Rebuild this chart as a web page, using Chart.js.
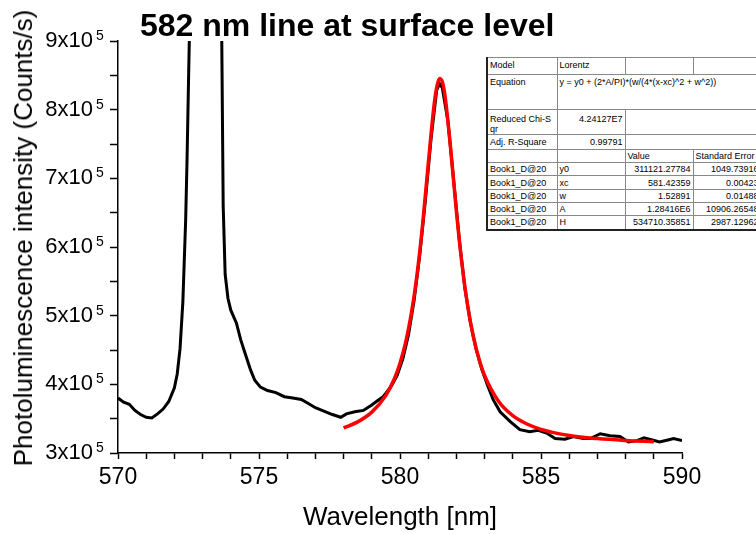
<!DOCTYPE html>
<html>
<head>
<meta charset="utf-8">
<script src="https://cdn.jsdelivr.net/npm/chart.js@4.4.0/dist/chart.umd.min.js"></script>
<style>
body{margin:0;background:#fff;overflow:hidden;}
#wrap{position:relative;width:756px;height:534px;overflow:hidden;font-family:"Liberation Sans",Arial,sans-serif;color:#000;}
#title{position:absolute;left:140px;top:7px;font-size:32px;font-weight:bold;white-space:nowrap;}
#ytitle{position:absolute;left:23px;top:238px;transform:translate(-50%,-50%) rotate(-90deg);white-space:nowrap;font-size:26px;line-height:1;}
#fit{position:absolute;left:486px;top:57px;border-collapse:collapse;table-layout:fixed;width:274px;font-size:9px;line-height:10px;background:#fff;border-left:2px solid #222;border-bottom:2px solid #222;border-top:1px solid #444;}
#fit td{border:1px solid #888;padding:0 2px;vertical-align:top;white-space:nowrap;overflow:hidden;}
#fit td.r{text-align:right;}
#fit tr.d td{vertical-align:middle;}
</style>
</head>
<body>
<div id="wrap">
<canvas id="chart" width="756" height="534"></canvas>
<div id="title">582 nm line at surface level</div>
<div id="ytitle">Photoluminescence intensity (Counts/s)</div>
<table id="fit">
<colgroup><col style="width:70px"><col style="width:68px"><col style="width:68px"><col style="width:68px"></colgroup>
<tr style="height:17px"><td style="padding-top:2px">Model</td><td style="padding-top:2px">Lorentz</td><td></td><td></td></tr>
<tr style="height:35px"><td style="padding-top:2px">Equation</td><td colspan="3" style="padding-top:2px">y = y0 + (2*A/PI)*(w/(4*(x-xc)^2 + w^2))</td></tr>
<tr style="height:25px"><td style="padding-top:4px">Reduced Chi-S<br>qr</td><td class="r" style="padding-top:4px">4.24127E7</td><td colspan="2"></td></tr>
<tr class="d" style="height:15px"><td>Adj. R-Square</td><td class="r">0.99791</td><td colspan="2"></td></tr>
<tr class="d" style="height:13px"><td></td><td></td><td>Value</td><td>Standard Error</td></tr>
<tr class="d" style="height:13px"><td>Book1_D@20</td><td>y0</td><td class="r">311121.27784</td><td class="r">1049.73916</td></tr>
<tr class="d" style="height:14px"><td>Book1_D@20</td><td>xc</td><td class="r">581.42359</td><td class="r">0.00423</td></tr>
<tr class="d" style="height:13px"><td>Book1_D@20</td><td>w</td><td class="r">1.52891</td><td class="r">0.01488</td></tr>
<tr class="d" style="height:13px"><td>Book1_D@20</td><td>A</td><td class="r">1.28416E6</td><td class="r">10906.26548</td></tr>
<tr class="d" style="height:14px"><td>Book1_D@20</td><td>H</td><td class="r">534710.35851</td><td class="r">2987.12962</td></tr>
</table>
</div>
<script>
// measured spectrum (black)
var wavelength = [570.0, 570.2, 570.4, 570.6, 570.8, 571.0, 571.2, 571.4, 571.6, 571.8,
	572.0, 572.1, 572.2, 572.3, 572.4, 572.45, 572.5, 572.6, 572.8, 573.0, 573.2, 573.4, 573.6,
	573.68, 573.73, 573.8, 573.9, 574.0, 574.2, 574.35, 574.5, 574.7, 574.85, 575.05, 575.3,
	575.6, 575.9, 576.2, 576.5, 576.75, 577.0, 577.3, 577.6, 577.9, 578.1, 578.4, 578.7,
	579.0, 579.2, 579.4, 579.5, 579.7, 579.9, 580.1, 580.3, 580.5, 580.7, 580.9, 581.1,
	581.3, 581.4, 581.5, 581.7, 581.9, 582.1, 582.3, 582.5, 582.7, 582.9, 583.1, 583.3,
	583.55, 583.9, 584.25, 584.6, 584.9, 585.2, 585.5, 585.85, 586.15, 586.5, 586.75,
	587.1, 587.45, 587.8, 588.1, 588.4, 588.65, 588.95, 589.2, 589.5, 589.7, 590.0];
var intensity = [380000, 374000, 371000, 362000, 356000, 352000, 351000, 357000, 364000, 375000,
	395000, 415000, 452000, 520000, 640000, 730000, 840000, 1050000, 1300000, 1450000, 1400000, 1200000, 1000000,
	900000, 660000, 560000, 525000, 508000, 489000, 465000, 446000, 421000, 406000, 396000, 391000,
	388000, 382000, 380000, 378000, 372000, 366000, 361000, 356000, 352000, 357000, 360000, 362000,
	370000, 376000, 382000, 387000, 398000, 413000, 437000, 472000, 522000, 588000, 668000, 757000,
	828000, 838000, 832000, 783000, 698000, 612000, 540000, 489000, 451000, 422000, 399000, 378000,
	360000, 346000, 334000, 331000, 333000, 329000, 321000, 320000, 324000, 321000, 321000,
	328000, 325000, 324000, 316000, 318000, 322000, 319000, 316000, 319000, 321000, 318000];

// Lorentz fit (red)
var fitWavelength = [578.0, 578.5, 579.0, 579.5, 579.8, 580.0, 580.2, 580.4, 580.6, 580.8,
	581.0, 581.2, 581.3, 581.4, 581.5, 581.6, 581.8, 582.0, 582.2, 582.4, 582.6, 582.8,
	583.0, 583.5, 584.0, 584.5, 585.0, 586.0, 587.0, 588.0, 589.0];
var fitIntensity = [336500, 345300, 359500, 384000, 408100, 430800, 461200, 502600, 558600, 632200,
	720200, 803700, 832200, 845300, 840500, 818800, 741500, 652000, 574300, 514300, 469900, 437200,
	412900, 375000, 354400, 342200, 334500, 325600, 321000, 318300, 316500];

var xTicks = [570, 575, 580, 585, 590];
var xTickLabels = ['570', '575', '580', '585', '590'];
var yTicks = [300000, 400000, 500000, 600000, 700000, 800000, 900000];
var yTickLabels = ['3x10', '4x10', '5x10', '6x10', '7x10', '8x10', '9x10'];
var yTickExponent = '5';

Chart.defaults.font.family = '"Liberation Sans", Arial, sans-serif';
Chart.defaults.color = '#000';

// small raised exponent after each y tick label
var exponentPlugin = {
	id: 'exponent',
	afterDraw: function(chart){
		var s = chart.scales.y;
		var c = chart.ctx;
		c.save();
		c.font = '14px "Liberation Sans", Arial, sans-serif';
		c.fillStyle = '#000';
		c.textAlign = 'left';
		c.textBaseline = 'alphabetic';
		yTicks.forEach(function(v){
			c.fillText(yTickExponent, s.right - 22, s.getPixelForValue(v) - 1);
		});
		c.restore();
	}
};

var spectrum = wavelength.map(function(x, i){ return {x: x, y: intensity[i]}; });
var fit = fitWavelength.map(function(x, i){ return {x: x, y: fitIntensity[i]}; });

var ctx = document.getElementById('chart');
var chart = new Chart(ctx, {
	type: 'scatter',
	data: {
		datasets: [
			{
				label: 'Lorentz fit',
				data: fit,
				showLine: true,
				borderColor: '#ff0000',
				borderWidth: 3.5,
				pointRadius: 0,
				cubicInterpolationMode: 'monotone',
				order: 0
			},
			{
				label: 'Book1_D@20',
				data: spectrum,
				showLine: true,
				borderColor: '#000000',
				borderWidth: 3,
				pointRadius: 0,
				tension: 0,
				order: 1
			}
		]
	},
	plugins: [exponentPlugin],
	options: {
		responsive: false,
		animation: false,
		events: [],
		layout: {padding: {left: 8, top: 41, right: 74, bottom: 0}},
		plugins: {legend: {display: false}, tooltip: {enabled: false}, title: {display: false}},
		scales: {
			x: {
				type: 'linear',
				min: 570,
				max: 590,
				afterFit: function(s){ s.height = 81; },
				ticks: {
					stepSize: 1,
					autoSkip: false,
					maxRotation: 0,
					padding: 5,
					font: {size: 23},
					callback: function(v){
						var k = xTicks.indexOf(v);
						return k >= 0 ? xTickLabels[k] : '';
					}
				},
				grid: {drawOnChartArea: false, tickLength: 6, tickColor: '#000', tickWidth: 1.5},
				border: {color: '#000', width: 1.5},
				title: {display: true, text: 'Wavelength [nm]', font: {size: 26}, padding: {top: 0, bottom: 1}}
			},
			y: {
				min: 300000,
				max: 900000,
				afterFit: function(s){ s.width = 110; },
				ticks: {
					stepSize: 50000,
					autoSkip: false,
					padding: 17,
					font: {size: 22},
					callback: function(v){
						var k = yTicks.indexOf(v);
						return k >= 0 ? yTickLabels[k] : '';
					}
				},
				grid: {drawOnChartArea: false, tickLength: 8, tickColor: '#000', tickWidth: 1.5},
				border: {color: '#000', width: 1.5}
			}
		}
	}
});
</script>
</body>
</html>
